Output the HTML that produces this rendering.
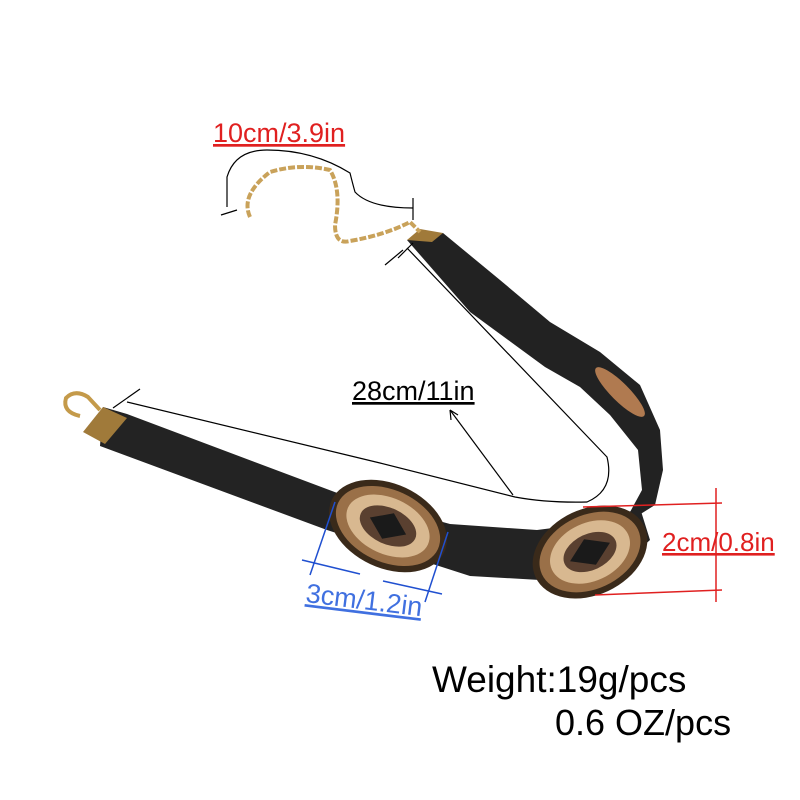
<!DOCTYPE html>
<html><head><meta charset="utf-8"><style>
html,body{margin:0;padding:0;background:#fff;width:800px;height:800px;overflow:hidden}
svg{display:block}
text{font-family:"Liberation Sans",sans-serif}
</style></head><body>
<svg width="800" height="800" viewBox="0 0 800 800" xmlns="http://www.w3.org/2000/svg">
<rect width="800" height="800" fill="#fff"/>
<!-- upper strap -->
<path d="M407,240 L443,233 L500,280 L550,322 L600,352 L640,385 L660,430 L663,470 L655,505 L623,525 L642,490 L638,450 L610,415 L580,387 L545,367 L470,312 Z" fill="#222"/>
<!-- lower strap -->
<path d="M103,407 L127,414 L340,494 L450,524 L537,530 L600,522 L640,508 L650,540 L600,585 L540,580 L470,576 L327,530 L100,446 Z" fill="#232323"/>
<!-- end caps -->
<path d="M83,432 L103,407 L127,418 L105,444 Z" fill="#a07a3a"/>
<path d="M407,240 L420,229 L443,233 L432,242 Z" fill="#a07a3a"/>
<!-- lobster clasp -->
<path d="M80,416 Q62,412 66,398 Q75,389 88,397 L100,410" fill="none" stroke="#c49a4a" stroke-width="4"/>
<!-- chain -->
<path d="M250,217 Q240,195 270,172 Q300,163 330,170 Q342,190 335,225 Q335,245 350,241 Q385,235 410,222 L420,232" fill="none" stroke="#c9a25a" stroke-width="4" stroke-dasharray="7,2"/>
<!-- conchos -->
<g transform="rotate(25 388 526)">
<ellipse cx="388" cy="526" rx="62" ry="42" fill="#3a2a1a"/>
<ellipse cx="388" cy="526" rx="55" ry="36" fill="#9a7048"/>
<ellipse cx="388" cy="526" rx="44" ry="28" fill="#d8b890"/>
<ellipse cx="388" cy="526" rx="30" ry="18" fill="#5a4030"/>
<path d="M368,526 L388,512 L408,526 L388,540 Z" fill="#1a1a1a"/>
</g>
<g transform="rotate(-25 590 552)">
<ellipse cx="590" cy="552" rx="60" ry="43" fill="#3a2a1a"/>
<ellipse cx="590" cy="552" rx="53" ry="37" fill="#9a7048"/>
<ellipse cx="590" cy="552" rx="42" ry="29" fill="#d8b890"/>
<ellipse cx="590" cy="552" rx="28" ry="18" fill="#5a4030"/>
<path d="M568,552 L590,538 L612,552 L590,566 Z" fill="#1a1a1a"/>
</g>
<ellipse cx="620" cy="392" rx="34" ry="9" transform="rotate(45 620 392)" fill="#b07a50"/>
<!-- measurement lines black -->
<g stroke="#000" stroke-width="1.2" fill="none">
<path d="M227,207 L227,177 Q235,150 267,150 Q313,150 350,173 Q353,185 355,192 Q370,208 413,208"/>
<line x1="221" y1="215" x2="237" y2="210"/>
<line x1="413" y1="198" x2="413" y2="220"/>
<line x1="113" y1="408" x2="140" y2="389"/>
<path d="M127,402 L380,463 L515,497 Q547,503 587,502 Q615,490 607,457 L407,248"/>
<line x1="398" y1="258" x2="413" y2="243"/>
<line x1="385" y1="265" x2="403" y2="250"/>
<line x1="513" y1="495" x2="450" y2="410"/>
<path d="M450,410 L451,420 M450,410 L458,415"/>
</g>
<!-- red -->
<g stroke="#e02020" stroke-width="1.5">
<line x1="716" y1="488" x2="716" y2="602"/>
<line x1="583" y1="507" x2="722" y2="503"/>
<line x1="595" y1="595" x2="722" y2="590"/>
</g>
<!-- blue -->
<g stroke="#2050d0" stroke-width="1.5">
<line x1="335" y1="502" x2="310" y2="575"/>
<line x1="302" y1="560" x2="360" y2="574"/>
<line x1="448" y1="532" x2="425" y2="602"/>
<line x1="383" y1="581" x2="442" y2="594"/>
</g>
<text x="213" y="142" font-size="27" fill="#e02020" text-decoration="underline">10cm/3.9in</text>
<text x="352" y="400" font-size="27" fill="#000" text-decoration="underline">28cm/11in</text>
<text x="662" y="551" font-size="26" fill="#e02020" text-decoration="underline">2cm/0.8in</text>
<text x="305" y="602" font-size="27" fill="#4070e0" text-decoration="underline" transform="rotate(7 305 602)">3cm/1.2in</text>
<text x="432" y="692" font-size="37" fill="#000">Weight:19g/pcs</text>
<text x="555" y="735" font-size="36" fill="#000">0.6 OZ/pcs</text>
</svg>
</body></html>
